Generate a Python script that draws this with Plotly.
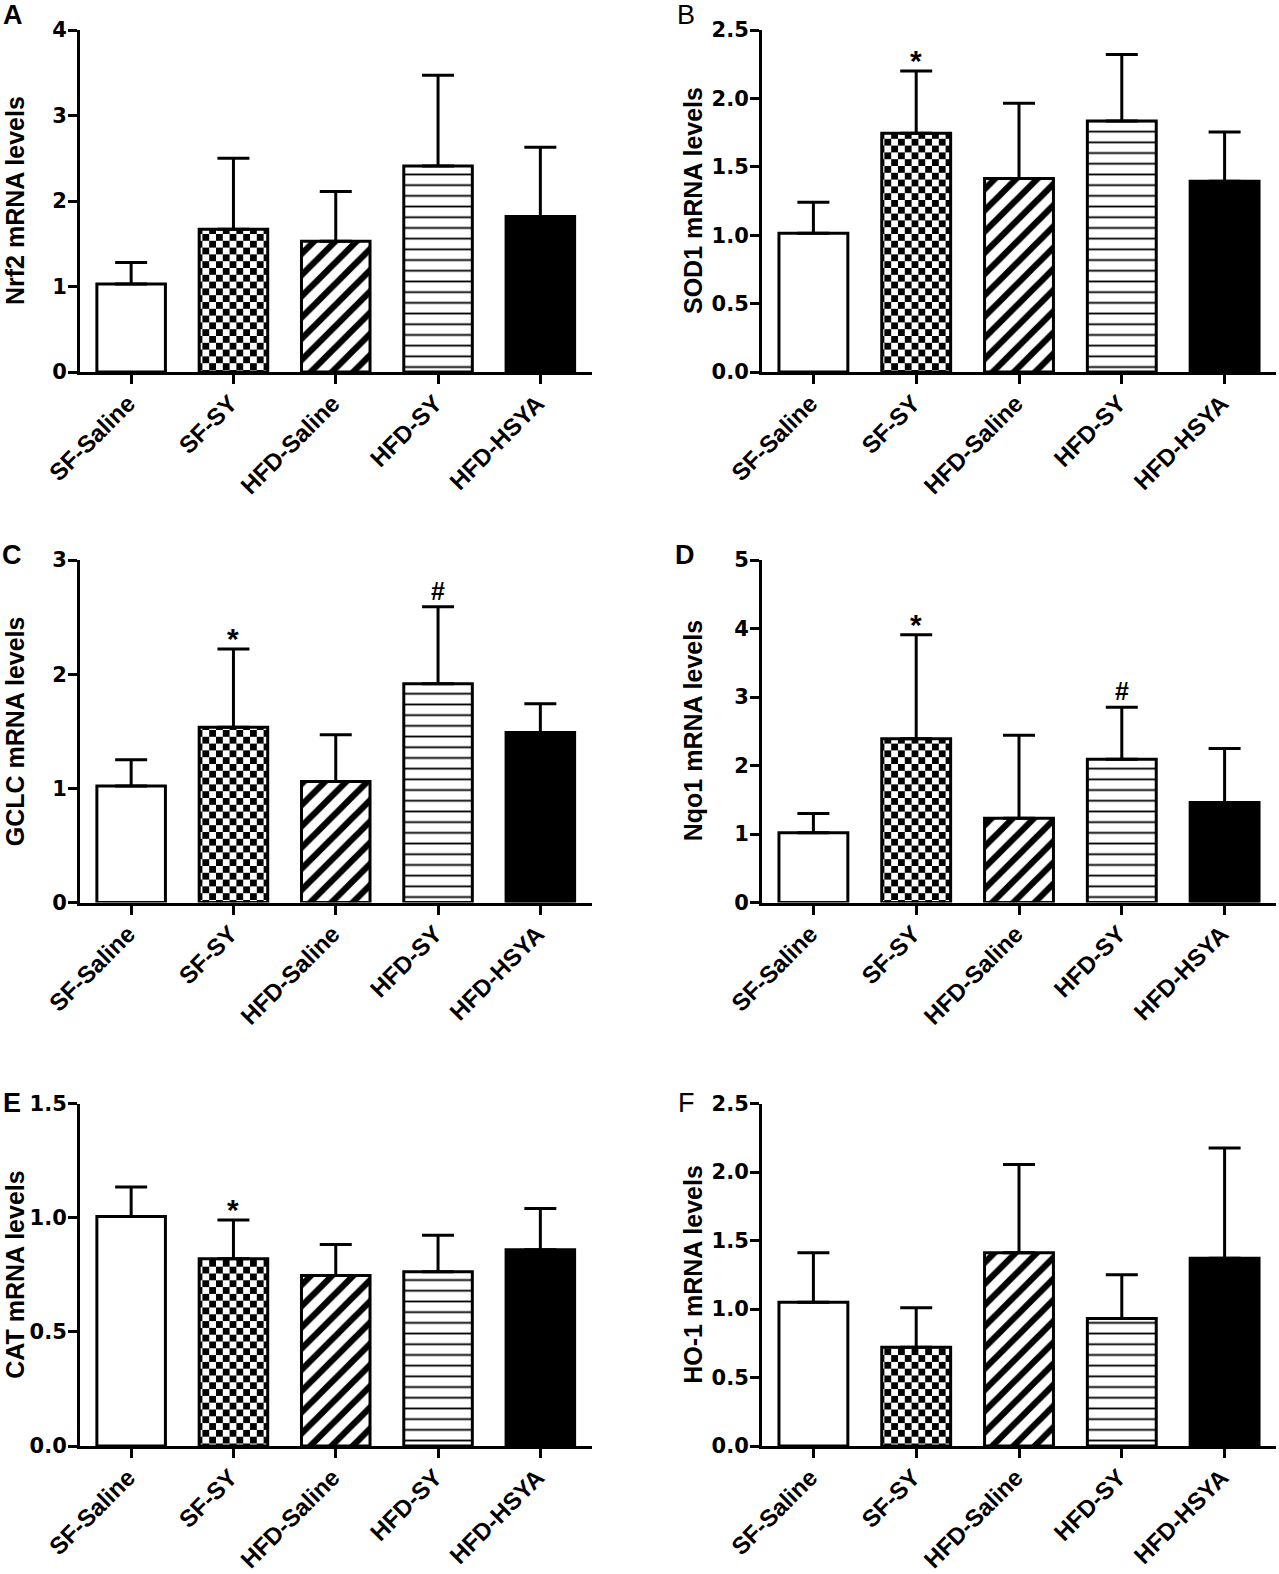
import plotly.graph_objects as go

categories = ["SF-Saline", "SF-SY", "HFD-Saline", "HFD-SY", "HFD-HSYA"]

nrf2_mean = [1.03, 1.67, 1.53, 2.41, 1.82]
nrf2_err = [0.25, 0.83, 0.58, 1.06, 0.81]

sod1_mean = [1.015, 1.745, 1.415, 1.835, 1.395]
sod1_err = [0.225, 0.455, 0.55, 0.485, 0.36]

gclc_mean = [1.02, 1.535, 1.06, 1.915, 1.49]
gclc_err = [0.23, 0.685, 0.41, 0.675, 0.25]

nqo1_mean = [1.02, 2.39, 1.23, 2.09, 1.46]
nqo1_err = [0.28, 1.52, 1.21, 0.76, 0.79]

cat_mean = [1.005, 0.82, 0.747, 0.763, 0.86]
cat_err = [0.129, 0.17, 0.135, 0.16, 0.18]

ho1_mean = [1.05, 0.72, 1.41, 0.93, 1.37]
ho1_err = [0.36, 0.29, 0.645, 0.32, 0.805]

panel_letters = ["A", "B", "C", "D", "E", "F"]
y_titles = ["Nrf2 mRNA levels", "SOD1 mRNA levels", "GCLC mRNA levels",
            "Nqo1 mRNA levels", "CAT mRNA levels", "HO-1 mRNA levels"]
y_max = [4, 2.5, 3, 5, 1.5, 2.5]
y_dtick = [1, 0.5, 1, 1, 0.5, 0.5]
y_fmt = ["d", ".1f", "d", "d", ".1f", ".1f"]
signif = [{}, {1: "*"}, {1: "*", 3: "#"}, {1: "*", 3: "#"}, {1: "*"}, {}]

means = [nrf2_mean, sod1_mean, gclc_mean, nqo1_mean, cat_mean, ho1_mean]
errs = [nrf2_err, sod1_err, gclc_err, nqo1_err, cat_err, ho1_err]

W, H = 1279, 1574
FONT = "Liberation Sans, Arial, sans-serif"
TICKFONT = "DejaVu Sans, Liberation Sans, sans-serif"

# pixel geometry of panels
col_x = [(80, 591.5), (762, 1276)]
row_y = [(30, 372), (560, 902.5), (1103.5, 1446)]
letter_pos = [(13, 15), (686, 15), (12, 555), (685, 555), (12, 1103), (686, 1103)]
letter_bold = [True, False, True, True, True, False]
title_x = [15, 693]

# first four groups are white with patterns, last group is solid black
pshapes = ["", ".", "/", "-"]
psizes = [10, 13.6, 15, 10.7]
psolid = [0.3, 0.5, 0.42, 0.17]

fig = go.Figure()
layout = dict(width=W, height=H, margin=dict(l=0, r=0, t=0, b=0),
              paper_bgcolor="white", plot_bgcolor="white", showlegend=False,
              barmode="overlay", font=dict(family=FONT, color="black"))
annotations = []
shapes = []

for i in range(6):
    r, c = divmod(i, 2)
    xs = "" if i == 0 else str(i + 1)
    xname, yname = "x" + xs, "y" + xs
    fig.add_trace(go.Bar(
        x=categories[:4], y=means[i][:4], xaxis=xname, yaxis=yname, width=0.67,
        marker=dict(color="white", line=dict(color="black", width=3),
                    pattern=dict(shape=pshapes, size=psizes, solidity=psolid,
                                 fgcolor="black", bgcolor="white", fillmode="replace")),
        error_y=dict(type="data", array=errs[i][:4], arrayminus=[0] * 4, symmetric=False,
                     color="black", thickness=3, width=16),
        hoverinfo="skip",
    ))
    fig.add_trace(go.Bar(
        x=categories[4:], y=means[i][4:], xaxis=xname, yaxis=yname, width=0.67,
        marker=dict(color="black", line=dict(color="black", width=3)),
        error_y=dict(type="data", array=errs[i][4:], arrayminus=[0], symmetric=False,
                     color="black", thickness=3, width=16),
        hoverinfo="skip",
    ))
    x0p, x1p = col_x[c]
    ytop, ybot = row_y[r]
    layout["xaxis" + xs] = dict(
        domain=[x0p / W, x1p / W], anchor=yname, type="category",
        categoryorder="array", categoryarray=categories,
        range=[-0.5, 4.5], showline=True, linewidth=3, linecolor="black",
        ticks="outside", ticklen=9, tickwidth=3, tickcolor="black",
        tickangle=-45, showgrid=False, zeroline=False, automargin=False,
        ticklabelshift=-3, ticklabelstandoff=-4,
        tickfont=dict(family=FONT, size=24, color="black", weight="bold"),
    )
    layout["yaxis" + xs] = dict(
        domain=[1 - ybot / H, 1 - ytop / H], anchor=xname,
        range=[0, y_max[i]], dtick=y_dtick[i], tick0=0, tickformat=y_fmt[i],
        showline=True, linewidth=3, linecolor="black",
        ticks="outside", ticklen=9, tickwidth=3, tickcolor="black",
        showgrid=False, zeroline=False, automargin=False,
        ticklabelstandoff=-3,
        tickfont=dict(family=TICKFONT, size=21, color="black", weight="bold"),
    )
    # x axis line extends slightly left of the y axis (GraphPad style)
    shapes.append(dict(type="line", xref=xname, yref=yname, xsizemode="pixel",
                       xanchor=-0.5, x0=-10, x1=0, ysizemode="pixel", yanchor=0,
                       y0=-1.5, y1=-1.5, line=dict(color="black", width=3)))
    # y title
    annotations.append(dict(
        text=y_titles[i], xref="paper", yref="paper",
        x=title_x[c] / W, y=1 - (ytop + ybot) / 2 / H, xanchor="center", yanchor="middle",
        textangle=-90, showarrow=False,
        font=dict(family=FONT, size=25, color="black", weight="bold")))
    # panel letter
    lx, ly = letter_pos[i]
    annotations.append(dict(
        text=panel_letters[i], xref="paper", yref="paper", x=lx / W, y=1 - ly / H,
        xanchor="center", yanchor="middle", showarrow=False,
        font=dict(family=FONT, size=27, color="black",
                  weight="bold" if letter_bold[i] else "normal")))
    # significance markers
    for k, sym in signif[i].items():
        annotations.append(dict(
            text=sym, xref=xname, yref=yname, x=categories[k], y=means[i][k] + errs[i][k],
            xanchor="center", yanchor="bottom", yshift=-8 if sym == "*" else 0,
            showarrow=False,
            font=dict(family=FONT, size=30 if sym == "*" else 25, color="black",
                      weight="bold")))

layout["annotations"] = annotations
layout["shapes"] = shapes
fig.update_layout(**layout)

post_js = """
document.body.style.margin = '0';
document.body.style.padding = '0';
var ns = 'http://www.w3.org/2000/svg';
document.querySelectorAll('pattern').forEach(function(p){
  var c = p.querySelector('circle');
  if(!c) return;
  var w = parseFloat(p.getAttribute('width'));
  var h = parseFloat(p.getAttribute('height'));
  c.parentNode.removeChild(c);
  [[0,0],[w/2,h/2]].forEach(function(o){
    var r = document.createElementNS(ns,'rect');
    r.setAttribute('x', o[0]); r.setAttribute('y', o[1]);
    r.setAttribute('width', w/2); r.setAttribute('height', h/2);
    r.setAttribute('fill', 'black');
    p.appendChild(r);
  });
});
"""

fig.write_html("out.html", post_script=post_js, config={"displayModeBar": False})
